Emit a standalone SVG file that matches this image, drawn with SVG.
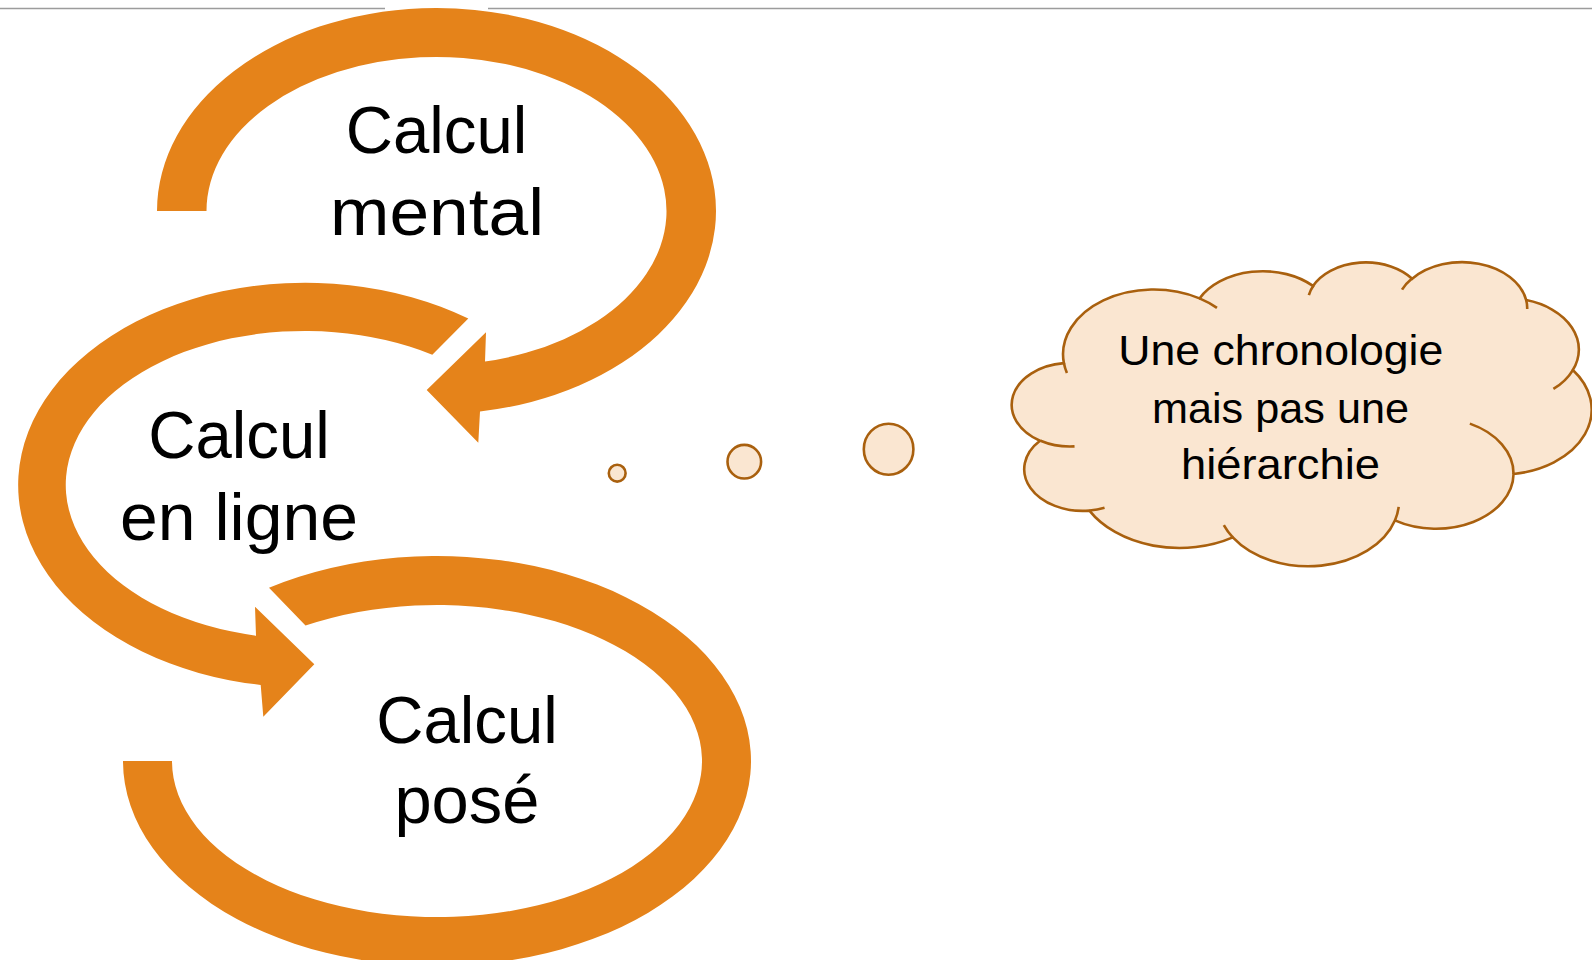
<svg xmlns="http://www.w3.org/2000/svg" width="1592" height="960" viewBox="0 0 1592 960">
  <style>
    .arc { fill: #E5831A; stroke: none; }
    .lbl { font-family: "Liberation Sans", Arial, sans-serif; font-size: 67px; fill: #000000; }
    .cl { font-family: "Liberation Sans", Arial, sans-serif; font-size: 42px; fill: #000000; }
    .bub { fill: #FAE6D1; stroke: #A9600E; stroke-width: 2.6; }
    .topline { stroke: #9C9C9C; stroke-width: 1.5; fill: none; }
  </style>
  <rect x="0" y="0" width="1592" height="960" fill="#FFFFFF"/>
  <line class="topline" x1="0" y1="8.5" x2="385" y2="8.5"/>
  <line class="topline" x1="488" y1="8.5" x2="1592" y2="8.5"/>

  <g id="connectors"></g>

  <g id="node-calcul-pose">
    <path class="arc" d="M269,587.8 A314,205 0 1 1 123,761 L172,761 A265,156 0 1 0 305.5,625.6 Z"/>
    <text class="lbl" x="376.25" y="743.3" textLength="181.5" lengthAdjust="spacingAndGlyphs">Calcul</text>
    <text class="lbl" x="394.4" y="823.3" textLength="145" lengthAdjust="spacingAndGlyphs">posé</text>
  </g>

  <g id="node-calcul-en-ligne">
    <path class="arc" d="M468.3,318.6 A287,202.3 0 1 0 260.7,684.9 L263.3,716.7 L314.3,664.3 L255,606.7 L256,635.7 A239,154 0 1 1 432.3,354.7 Z"/>
    <text class="lbl" x="148.25" y="458.3" textLength="181.5" lengthAdjust="spacingAndGlyphs">Calcul</text>
    <text class="lbl" x="120" y="540" textLength="238" lengthAdjust="spacingAndGlyphs">en ligne</text>
  </g>

  <g id="node-calcul-mental">
    <path class="arc" d="M157,211 A279.5,203 0 1 1 480,411.5 L478.3,442.7 L426.7,390 L486,332.3 L485,361.5 A230,154 0 1 0 206.5,211 Z"/>
    <text class="lbl" x="345.75" y="153.3" textLength="181.5" lengthAdjust="spacingAndGlyphs">Calcul</text>
    <text class="lbl" x="330" y="235" textLength="214" lengthAdjust="spacingAndGlyphs">mental</text>
  </g>

  <g id="node-cloud">
    <circle class="bub" cx="617.2" cy="473.2" r="8.4"/>
    <circle class="bub" cx="744.3" cy="461.7" r="16.8"/>
    <ellipse class="bub" cx="888.6" cy="449.2" rx="24.8" ry="25.5"/>
    <g transform="translate(1011.5,261.8) scale(0.01343,0.00705)">
      <path class="bub" vector-effect="non-scaling-stroke" d="M3900,14370 A6753,9190 0 0 1 14000,5192 A5333,7267 0 0 1 22451,3423 A4365,5945 0 0 1 29834,2400 A4857,6595 0 0 1 38324,5426 A5333,7273 0 0 1 41798,15354 A6775,9220 0 0 1 37383,30096 A5785,7867 0 0 1 28547,36683 A6752,9215 0 0 1 16478,39090 A7720,10543 0 0 1 5801,35294 A4360,5918 0 0 1 2120,25376 A4345,5945 0 0 1 3900,14370 Z"/>
      <path vector-effect="non-scaling-stroke" fill="none" stroke="#A9600E" stroke-width="2.6" d="M4693,26177 A4345,5945 0 0 1 2160,25380 M6928,34899 A4360,5918 0 0 1 5819,35281 M16478,39090 A6752,9215 0 0 1 15810,37349 M28827,34751 A6752,9215 0 0 1 28560,36660 M34129,22954 A5785,7867 0 0 1 37380,30090 M41798,15354 A5333,7273 0 0 1 40350,18030 M38324,5426 A4857,6595 0 0 1 38400,6690 M29078,3952 A4857,6595 0 0 1 29839,2331 M22141,4720 A4365,5945 0 0 1 22500,3331 M14000,5192 A6753,9190 0 0 1 15299,6541 M4127,15789 A6753,9190 0 0 1 3900,14370"/>
    </g>
    <text class="cl" x="1118.3" y="365" textLength="325" lengthAdjust="spacingAndGlyphs">Une chronologie</text>
    <text class="cl" x="1152" y="422.7" textLength="257" lengthAdjust="spacingAndGlyphs">mais pas une</text>
    <text class="cl" x="1181" y="479.3" textLength="199" lengthAdjust="spacingAndGlyphs">hiérarchie</text>
  </g>
</svg>
